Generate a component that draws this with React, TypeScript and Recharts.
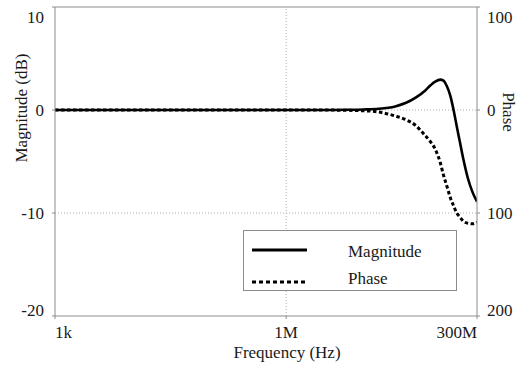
import { LineChart, Line, XAxis, YAxis, ReferenceLine, Legend } from "recharts"

const frequencies = [
  1e3, 1e4, 1e5, 1e6, 3e6, 6e6, 1e7, 1.6e7, 2.6e7, 3.6e7, 4.8e7, 6.4e7, 7.5e7,
  8.6e7, 1e8, 1.1e8, 1.22e8, 1.35e8, 1.49e8, 1.64e8, 1.8e8, 2e8, 2.3e8, 2.6e8, 3e8,
]
const magnitudeDb = [
  0, 0, 0, 0, 0, 0.02, 0.05, 0.12, 0.35, 0.7, 1.2, 1.9, 2.4,
  2.75, 2.95, 2.85, 2.3, 1.4, 0, -1.6, -3.1, -4.8, -6.7, -7.9, -8.9,
]
const phaseDeg = [
  0, 0, 0, 0, 0, -0.3, -0.7, -2, -5.8, -9.5, -15, -25, -31,
  -38, -51, -63, -74, -85, -93, -100, -104, -108, -110, -110.5, -109,
]

const freqTicks = [1e3, 1e6, 3e8]
const freqLabels = ["1k", "1M", "300M"]
const magTicks = [-20, -10, 0, 10]
const phaseTicks = [-200, -100, 0, 100]

const data = frequencies.map((f, i) => ({ f, magnitude: magnitudeDb[i], phase: phaseDeg[i] }))

const FONT = "'Liberation Serif', 'Times New Roman', serif"
const AXIS = "#8c8c8c"
const INK = "#1a1a1a"
const textStyle = { fontFamily: FONT, fontSize: 17, fill: INK }

function XTick({ x, y, index }: any) {
  const anchor = index === 0 ? "start" : index === freqTicks.length - 1 ? "end" : "middle"
  return (
    <text x={x} y={y + 17} textAnchor={anchor} style={textStyle}>
      {freqLabels[index]}
    </text>
  )
}

function edgeShift(index: number, count: number) {
  if (index === 0) return -6
  if (index === count - 1) return 8
  return 0
}

function LeftTick({ x, y, payload, index }: any) {
  return (
    <text x={x - 6} y={y + edgeShift(index, magTicks.length)} textAnchor="end" dominantBaseline="central" style={textStyle}>
      {payload.value}
    </text>
  )
}

function RightTick({ x, y, payload, index }: any) {
  return (
    <text x={x + 5} y={y + edgeShift(index, phaseTicks.length)} textAnchor="start" dominantBaseline="central" style={textStyle}>
      {Math.abs(payload.value)}
    </text>
  )
}

function LegendBox() {
  return (
    <div style={{ width: 214, height: 61, boxSizing: "border-box", border: `1px solid ${AXIS}`, background: "#fff" }}>
      <svg width={212} height={59} style={{ display: "block" }}>
        <line x1={8} x2={63} y1={19} y2={19} stroke="#000" strokeWidth={3} />
        <line x1={8} x2={63} y1={51} y2={51} stroke="#000" strokeWidth={3} strokeDasharray="4 3" />
        <text x={104} y={26} style={textStyle}>Magnitude</text>
        <text x={104} y={53} style={textStyle}>Phase</text>
      </svg>
    </div>
  )
}

export default function App() {
  return (
    <div style={{ position: "absolute", left: 0, top: 0, width: 521, height: 369, background: "#fff" }}>
      <LineChart width={521} height={369} data={data} margin={{ top: 7, right: 0, bottom: 0, left: 0 }}>
        <XAxis
          dataKey="f"
          type="number"
          scale="log"
          domain={[1e3, 3e8]}
          ticks={freqTicks}
          allowDataOverflow
          height={53}
          stroke={AXIS}
          tickSize={3}
          tick={<XTick />}
          label={() => (
            <text x={287} y={358} textAnchor="middle" style={textStyle}>
              Frequency (Hz)
            </text>
          )}
        />
        <YAxis
          yAxisId="mag"
          domain={[-20, 10]}
          ticks={magTicks}
          width={55}
          stroke={AXIS}
          tickSize={3}
          tick={<LeftTick />}
          label={() => (
            <text x={21} y={108} transform="rotate(-90 21 108)" textAnchor="middle" dominantBaseline="central" style={textStyle}>
              Magnitude (dB)
            </text>
          )}
        />
        <YAxis
          yAxisId="phase"
          orientation="right"
          domain={[-200, 100]}
          ticks={phaseTicks}
          width={44}
          stroke={AXIS}
          tickSize={3}
          tick={<RightTick />}
          label={() => (
            <text x={508} y={112} transform="rotate(90 508 112)" textAnchor="middle" dominantBaseline="central" style={textStyle}>
              Phase
            </text>
          )}
        />
        <ReferenceLine yAxisId="mag" y={10} stroke={AXIS} strokeWidth={1} />
        <ReferenceLine yAxisId="mag" y={0} stroke="#b0b0b0" strokeDasharray="1 2" />
        <ReferenceLine yAxisId="mag" y={-10} stroke="#b0b0b0" strokeDasharray="1 2" />
        <ReferenceLine yAxisId="mag" x={1e6} stroke="#b0b0b0" strokeDasharray="1 2" />
        <Legend
          layout="vertical"
          align="center"
          verticalAlign="middle"
          wrapperStyle={{ left: 243, top: 230, width: 214, height: 61 }}
          content={() => <LegendBox />}
        />
        <Line
          yAxisId="phase"
          dataKey="phase"
          name="Phase"
          type="monotone"
          stroke="#000"
          strokeWidth={3}
          strokeDasharray="3.5 2.5"
          dot={false}
          isAnimationActive={false}
        />
        <Line
          yAxisId="mag"
          dataKey="magnitude"
          name="Magnitude"
          type="monotone"
          stroke="#000"
          strokeWidth={2.6}
          dot={false}
          isAnimationActive={false}
        />
      </LineChart>
    </div>
  )
}
